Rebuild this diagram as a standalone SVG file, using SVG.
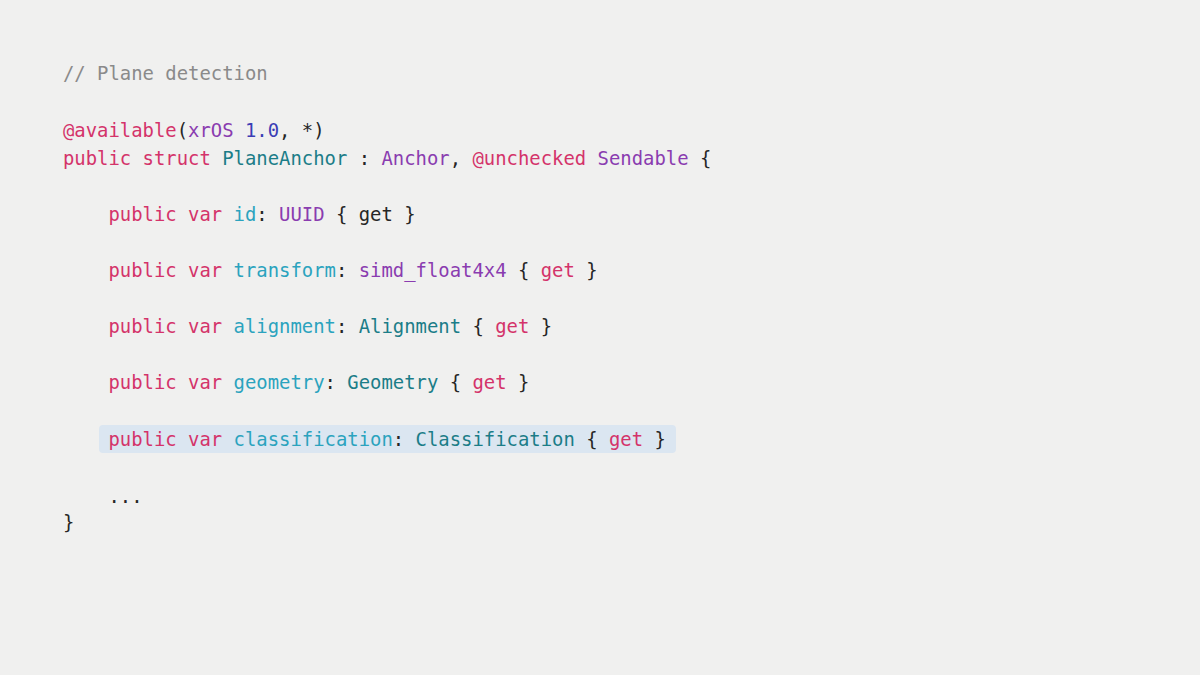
<svg xmlns="http://www.w3.org/2000/svg" width="1200" height="675" viewBox="0 0 1200 675">
<style>
text{font-family:"DejaVu Sans Mono","Liberation Mono",monospace;font-size:18.9px;fill:#262626;white-space:pre}
.c{fill:#8a8a8a}.k{fill:#d4336a}.t{fill:#1b7d88}.p{fill:#2ba3be}.u{fill:#8a3cb0}.n{fill:#3b3db5}
</style>
<rect width="1200" height="675" fill="#f0f0ef"/>
<g id="code">
<text x="63" y="80" class="c" xml:space="preserve">// Plane detection</text>
<text x="63" y="137" xml:space="preserve"><tspan class="k">@available</tspan>(<tspan class="u">xrOS</tspan> <tspan class="n">1.0</tspan>, *)</text>
<text x="63" y="165" xml:space="preserve"><tspan class="k">public struct</tspan> <tspan class="t">PlaneAnchor</tspan> : <tspan class="u">Anchor</tspan>, <tspan class="k">@unchecked</tspan> <tspan class="u">Sendable</tspan> {</text>
<text x="108.5" y="221" xml:space="preserve"><tspan class="k">public var</tspan> <tspan class="p">id</tspan>: <tspan class="u">UUID</tspan> { get }</text>
<text x="108.5" y="277" xml:space="preserve"><tspan class="k">public var</tspan> <tspan class="p">transform</tspan>: <tspan class="u">simd_float4x4</tspan> { <tspan class="k">get</tspan> }</text>
<text x="108.5" y="333" xml:space="preserve"><tspan class="k">public var</tspan> <tspan class="p">alignment</tspan>: <tspan class="t">Alignment</tspan> { <tspan class="k">get</tspan> }</text>
<text x="108.5" y="389" xml:space="preserve"><tspan class="k">public var</tspan> <tspan class="p">geometry</tspan>: <tspan class="t">Geometry</tspan> { <tspan class="k">get</tspan> }</text>
</g>
<g id="highlight">
<rect x="99" y="425" width="577" height="28" rx="4" fill="#dbe6f1"/>
<text x="108.5" y="446" xml:space="preserve"><tspan class="k">public var</tspan> <tspan class="p">classification</tspan>: <tspan class="t">Classification</tspan> { <tspan class="k">get</tspan> }</text>
</g>
<g id="tail">
<text x="108.5" y="503" xml:space="preserve">...</text>
<text x="63" y="529" xml:space="preserve">}</text>
</g>
</svg>
